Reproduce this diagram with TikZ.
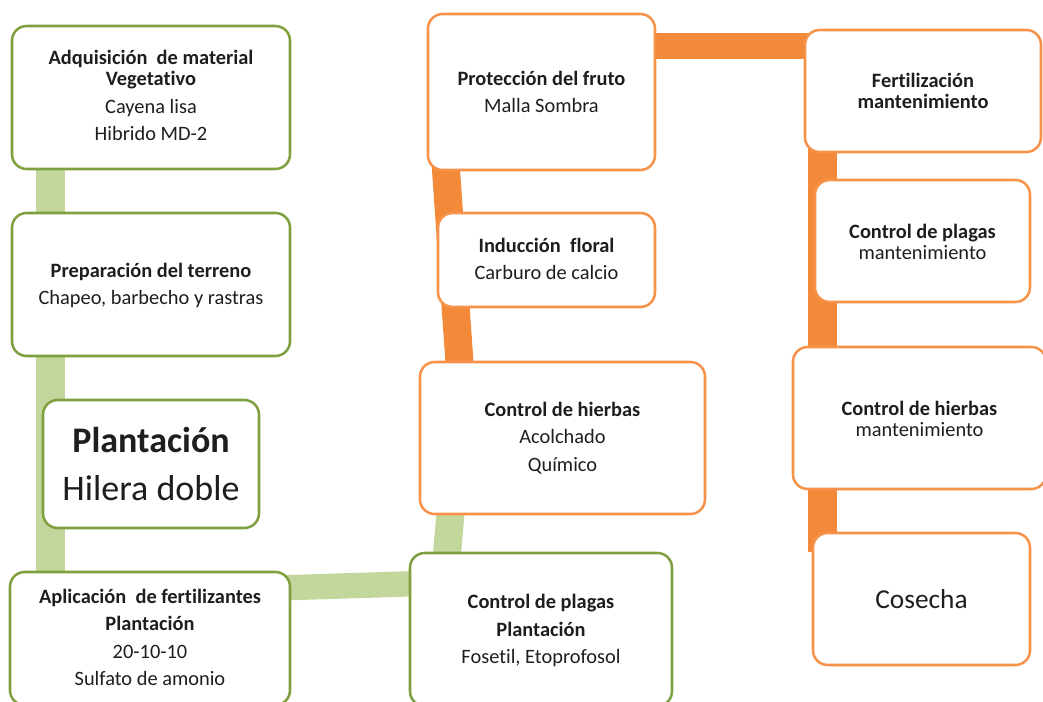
\documentclass[tikz,border=0pt]{standalone}
\usepackage{fontspec}
\setmainfont{Carlito}[Ligatures=NoCommon]
\usetikzlibrary{fit,calc,backgrounds}
\definecolor{gborder}{HTML}{7FA03E}
\definecolor{gbar}{HTML}{C3D69B}
\definecolor{oborder}{HTML}{F6924A}
\definecolor{obar}{HTML}{F38A3A}
\definecolor{txt}{HTML}{1E1E1E}
\begin{document}
\begin{tikzpicture}[x=0.75pt,y=-0.75pt,
 box/.style={draw, line width=1.9pt, rounded corners=11pt, fill=white, inner sep=0pt},
 gbox/.style={box, draw=gborder},
 obox/.style={box, draw=oborder},
 lab/.style={align=center, text=txt, inner sep=0pt, anchor=center, font=\fontsize{15.3}{15.75}\selectfont},
 biglab/.style={lab, font=\fontsize{27}{36}\selectfont},
 midlab/.style={lab, font=\fontsize{20.5}{24}\selectfont},
 gconn/.style={draw=gbar, line width=22pt, line cap=butt},
 oconn/.style={draw=obar, line width=21pt, line cap=butt}]
\useasboundingbox (0,0) rectangle (1043,702);
\begin{scope}
\clip (0,0) rectangle (1043,702);
% green boxes
\node[gbox, fit={(12,26)(290,169)}] (adq) {};
\node[gbox, fit={(12,213)(290,356)}] (pre) {};
\node[gbox, fit={(43,400)(259,528)}] (pla) {};
\node[gbox, fit={(10,572)(290,705)}] (apl) {};
\node[gbox, fit={(410,553)(672,706)}] (cpp) {};
% orange boxes
\node[obox, fit={(420,362)(705,514)}] (chb) {};
\node[obox, fit={(438,213)(655,307)}] (ind) {};
\node[obox, fit={(428,14)(655,170)}] (pro) {};
\node[obox, fit={(805,30)(1041,152)}] (fer) {};
\node[obox, fit={(815,180)(1030,302)}] (cpm) {};
\node[obox, fit={(793,347)(1046,489)}] (chm) {};
\node[obox, fit={(813,533)(1030,665)}] (cos) {};
% texts
\node[lab] (adqt) at ($(adq.center)+(0,-2)$) {\textbf{Adquisición\ \ de material}\\ \textbf{Vegetativo}\\[4.8pt] Cayena lisa\\[4.8pt] Hibrido MD-2};
\node[lab] (pret) at ($(pre.center)+(0,1)$) {\textbf{Preparación\ del terreno}\\[4.8pt] Chapeo, barbecho y rastras};
\node[biglab] (plat) at (pla.center) {\textbf{Plantación}\\ Hilera doble};
\node[lab] (aplt) at ($(apl.center)+(0,-1)$) {\textbf{Aplicación\ \ de fertilizantes}\\[4.8pt] \textbf{Plantación}\\[4.8pt] 20-10-10\\[4.8pt] Sulfato de amonio};
\node[lab] (cppt) at ($(cpp.center)+(0,1)$) {\textbf{Control de plagas}\\[4.8pt] \textbf{Plantación}\\[4.8pt] Fosetil, Etoprofosol};
\node[lab] (chbt) at (chb.center) {\textbf{Control de hierbas}\\[4.8pt] Acolchado\\[4.8pt] Químico};
\node[lab] (indt) at ($(ind.center)+(0,-1)$) {\textbf{Inducción\ \ floral}\\[4.8pt] Carburo de calcio};
\node[lab] (prot) at (pro.center) {\textbf{Protección del fruto}\\[4.8pt] Malla Sombra};
\node[lab] (fert) at (fer.center) {\textbf{Fertilización}\\ \textbf{mantenimiento}};
\node[lab] (cpmt) at ($(cpm.center)+(0,1)$) {\textbf{Control de plagas}\\ mantenimiento};
\node[lab] (chmt) at ($(chm.center)+(0,1)$) {\textbf{Control de hierbas}\\ mantenimiento};
\node[midlab] (cost) at (cos.center) {Cosecha};
\end{scope}
\begin{pgfonlayer}{background}
\draw[gconn] ($(adq.south west)+(40,-5)$) -- ($(apl.north west)+(42,5)$);
\draw[gconn, line width=19pt] ($(apl.north east)+(-5,17)$) -- ($(cpp.north west)+(5,32)$);
\draw[gconn, line width=21pt] ($(cpp.north west)+(38,5)$) -- ($(chb.south west)+(32,-5)$);
\draw[oconn] ($(pro.south west)+(19,-5)$) -- ($(chb.north west)+(41,5)$);
\draw[oconn, line width=19.5pt] ($(pro.north east)+(-5,33)$) -- ($(fer.north west)+(5,17)$);
\draw[oconn, line width=21.75pt] ($(fer.south west)+(19,-5)$) -- ($(cos.north west)+(11,20)$);
\end{pgfonlayer}
\end{tikzpicture}
\end{document}
